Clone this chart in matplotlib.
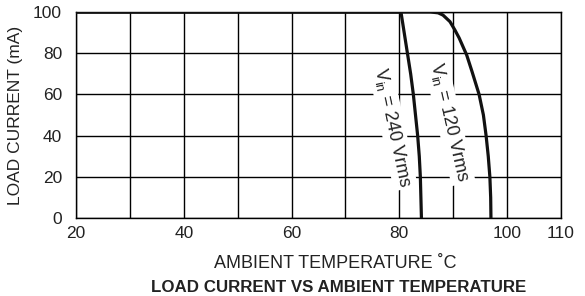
import matplotlib
matplotlib.use("Agg")
import matplotlib.pyplot as plt

plt.rcParams['font.family'] = ['Liberation Sans', 'DejaVu Sans']
plt.rcParams['mathtext.default'] = 'regular'

# Data
temp_240 = [20, 80.3, 80.9, 81.5, 82.1, 82.6, 83.0, 83.4, 83.7, 83.9, 84.0, 84.1]
curr_240 = [100, 100, 90, 80, 70, 60, 50, 40, 30, 20, 10, 0]

temp_120 = [20, 85.8, 87.2, 88.1, 89.4, 90.3, 91.1, 92.5, 93.5, 94.8, 95.6, 96.1, 96.5, 96.8, 96.95, 97.0]
curr_120 = [100, 100, 99.6, 98.5, 95.3, 91.3, 87.4, 79.1, 71.0, 60, 50, 40, 30, 20, 10, 0]

x_ticks = [20, 40, 60, 80, 100, 110]
y_ticks = [0, 20, 40, 60, 80, 100]
label_240 = r"V$_{in}$ = 240 Vrms"
label_120 = r"V$_{in}$ = 120 Vrms"

fig = plt.figure(figsize=(5.85, 2.96), dpi=100)
ax = fig.add_axes([76/585, 1-218/296, (561-76)/585, (218-12)/296])

ax.set_xlim(20, 110)
ax.set_ylim(0, 100)
ax.set_xticks(x_ticks)
ax.set_xticks(range(20, 111, 10), minor=True)
ax.set_yticks(y_ticks)
ax.tick_params(axis='both', which='both', length=0, labelsize=12.5, colors='#222222')
ax.tick_params(axis='x', pad=6)
ax.tick_params(axis='y', pad=10)
ax.grid(True, which='both', color='black', linewidth=1.0)
for s in ax.spines.values():
    s.set_color('black')
    s.set_linewidth(1.0)

ax.plot(temp_240, curr_240, color='#111111', linewidth=2.3, zorder=4,
        solid_capstyle='butt', solid_joinstyle='round')
ax.plot(temp_120, curr_120, color='#111111', linewidth=2.3, zorder=4,
        solid_capstyle='butt', solid_joinstyle='round')

bbox = dict(facecolor='white', edgecolor='none', pad=1.5)
ax.text(78.8, 44, label_240, rotation=-78, ha='center', va='center', fontsize=13,
        color='#222222', bbox=bbox, zorder=3, rotation_mode='anchor')
ax.text(89.3, 46.5, label_120, rotation=-77, ha='center', va='center', fontsize=13,
        color='#222222', bbox=bbox, zorder=3, rotation_mode='anchor')

ax.set_ylabel("LOAD CURRENT (mA)", fontsize=12.5, color='#222222')
ax.yaxis.set_label_coords((23-76)/485, 0.5)
fig.text(335/585, 1-264/296, "AMBIENT TEMPERATURE \u02daC", ha='center', va='center',
         fontsize=13, color='#222222')
fig.text(339/585, 1-287/296, "LOAD CURRENT VS AMBIENT TEMPERATURE", ha='center', va='center',
         fontsize=12.2, fontweight='bold', color='#222222')

fig.savefig("out.png", dpi=100)
